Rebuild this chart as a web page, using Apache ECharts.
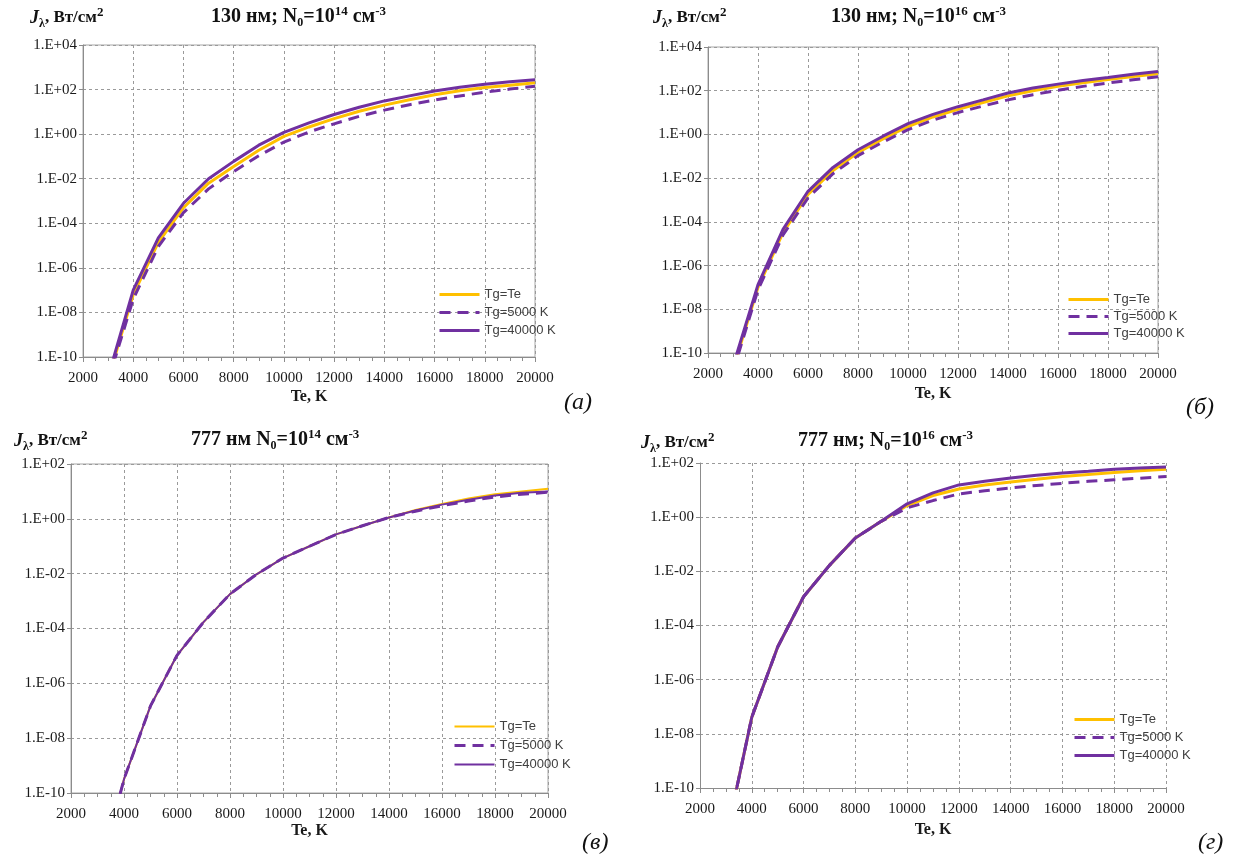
<!DOCTYPE html>
<html><head><meta charset="utf-8">
<script src="https://cdn.jsdelivr.net/npm/echarts@6/dist/echarts.min.js"></script>
<style>html,body{margin:0;padding:0;background:#fff}#c{width:1233px;height:858px}</style>
</head><body><div id="c"></div><script>
// ---------- DATA ----------
const te = [3000,4000,5000,6000,7000,8000,9000,10000,11000,12000,13000,14000,15000,16000,17000,18000,19000,20000];
const xTickLabels = ['2000','4000','6000','8000','10000','12000','14000','16000','18000','20000'];
const yTickLabelsTop4 = ['1.E-10','1.E-08','1.E-06','1.E-04','1.E-02','1.E+00','1.E+02','1.E+04'];
const yTickLabelsTop2 = ['1.E-10','1.E-08','1.E-06','1.E-04','1.E-02','1.E+00','1.E+02'];
const seriesNames = ['Tg=Te','Tg=5000 K','Tg=40000 K'];

// (a) 130 nm, N0=1e14
const aTe    = [1.0e-11,6.3e-8,1.4e-5,5.0e-4,6.3e-3,3.5e-2,0.19,0.79,2.1,5.0,10.7,20,35,58,89,123,158,204];
const a5000  = [8.3e-12,4.0e-8,9.1e-6,3.0e-4,3.5e-3,2.1e-2,0.107,0.44,1.26,2.9,6.3,12,21,34,52,76,105,141];
const a40000 = [1.3e-11,1.0e-7,2.2e-5,7.9e-4,1.0e-2,6.0e-2,0.32,1.2,3.2,7.6,16,31,52,87,126,174,224,275];
// (b) 130 nm, N0=1e16
const bTe    = [1.8e-11,1.0e-7,3.2e-5,1.8e-3,2.2e-2,0.15,0.63,2.3,6.3,14,29,58,100,158,234,324,447,589];
const b5000  = [1.4e-11,7.9e-8,2.5e-5,1.26e-3,1.6e-2,0.107,0.45,1.66,4.5,10,20,38,66,105,158,224,316,437];
const b40000 = [2.5e-11,1.35e-7,4.5e-5,2.5e-3,3.1e-2,0.2,0.83,3.1,8.3,18.6,38,79,132,200,295,398,562,759];
// (c) 777 nm, N0=1e14
const cTe    = [6.3e-14,3.2e-10,1.5e-7,1.05e-5,1.7e-4,1.8e-3,9.5e-3,3.7e-2,0.1,0.27,0.56,1.12,2.1,3.5,5.5,7.9,10,12.6];
const c5000  = [6.3e-14,3.2e-10,1.5e-7,1.05e-5,1.7e-4,1.8e-3,9.5e-3,3.7e-2,0.1,0.27,0.56,1.12,1.9,3.0,4.5,6.3,7.9,9.3];
const c40000 = [6.3e-14,3.2e-10,1.5e-7,1.05e-5,1.7e-4,1.8e-3,9.5e-3,3.7e-2,0.1,0.27,0.56,1.12,2.0,3.3,5.0,7.1,8.9,10];
// (d) 777 nm, N0=1e16
const dTe    = [1.3e-12,4.1e-8,1.6e-5,1.15e-3,1.66e-2,0.17,0.7,2.7,6.3,11,15.5,20,25,32,38,45,52,59];
const d5000  = [1.3e-12,4.1e-8,1.6e-5,1.15e-3,1.66e-2,0.17,0.7,2.2,4.1,7.2,9.5,12,14.8,17.8,21,24,27.5,31.6];
const d40000 = [1.3e-12,4.1e-8,1.6e-5,1.15e-3,1.66e-2,0.17,0.7,3.1,7.9,15.5,21,28,35,43,50,59,65,71];

// ---------- LAYOUT ----------
const panels = [
  {grid:{left:83,top:45,width:452,height:312}, yMax:1e4, yLabels:yTickLabelsTop4, data:[aTe,a5000,a40000], solidW:3, nameGap:32, border:true,
   legend:{left:438,top:288,gap:5}},
  {grid:{left:708,top:47,width:450,height:306}, yMax:1e4, yLabels:yTickLabelsTop4, data:[bTe,b5000,b40000], solidW:3, nameGap:33, border:true,
   legend:{left:1067,top:293,gap:4}},
  {grid:{left:71,top:464,width:477,height:329}, yMax:1e2, yLabels:yTickLabelsTop2, data:[cTe,c5000,c40000], solidW:2, nameGap:29, border:true,
   legend:{left:453,top:720,gap:6}},
  {grid:{left:700,top:463,width:466,height:325}, yMax:1e2, yLabels:yTickLabelsTop2, data:[dTe,d5000,d40000], solidW:3, nameGap:34, border:false,
   legend:{left:1073,top:713,gap:5}}
];
const YELLOW = '#FFC000', PURPLE = '#7030A0';
const serif = 'Liberation Serif';

const grids = [], xAxes = [], yAxes = [], series = [], legends = [];
panels.forEach((p, i) => {
  grids.push(Object.assign({show:p.border, borderColor:'#a6a6a6', borderWidth:1, backgroundColor:'transparent'}, p.grid));
  xAxes.push({
    type:'value', gridIndex:i, min:2000, max:20000, interval:2000,
    axisLine:{show:true, lineStyle:{color:'#8c8c8c', width:1}},
    axisTick:{show:true, length:5, lineStyle:{color:'#8c8c8c'}},
    minorTick:{show:true, splitNumber:4, length:4, lineStyle:{color:'#8c8c8c'}},
    splitLine:{show:true, lineStyle:{color:'#9a9a9a', type:[3,3], width:1}},
    axisLabel:{fontFamily:serif, fontSize:15, color:'#1a1a1a', margin:14,
      formatter:(v)=>xTickLabels[(v-2000)/2000] || ''},
    name:'Te, K', nameLocation:'middle', nameGap:p.nameGap,
    nameTextStyle:{fontFamily:serif, fontWeight:'bold', fontSize:16, color:'#1a1a1a'}
  });
  yAxes.push({
    type:'log', logBase:10, gridIndex:i, min:1e-10, max:p.yMax, interval:2,
    axisLine:{show:true, lineStyle:{color:'#8c8c8c', width:1}},
    axisTick:{show:true, length:4, lineStyle:{color:'#8c8c8c'}},
    splitLine:{show:true, lineStyle:{color:'#9a9a9a', type:[3,3], width:1}},
    axisLabel:{fontFamily:serif, fontSize:15, color:'#1a1a1a', margin:6,
      formatter:(v)=>{const e=Math.round(Math.log10(v)); return p.yLabels[(e+10)/2] || '';}}
  });
  const styles = [
    {color:YELLOW, width:p.solidW===2?2:3, type:'solid'},
    {color:PURPLE, width:3, type:[11,7]},
    {color:PURPLE, width:p.solidW, type:'solid'}
  ];
  p.data.forEach((arr, k) => {
    series.push({
      name:seriesNames[k], type:'line', xAxisIndex:i, yAxisIndex:i,
      data:te.map((t, j) => [t, arr[j]]),
      symbol:'none', showSymbol:false, clip:true, animation:false,
      lineStyle:styles[k], itemStyle:{color:styles[k].color}, z:2+k
    });
  });
  legends.push({
    orient:'vertical', left:p.legend.left, top:p.legend.top, itemWidth:40, itemHeight:14, itemGap:p.legend.gap,
    selectedMode:false, padding:0,
    textStyle:{fontFamily:'Liberation Sans', fontSize:13, color:'#404040'},
    data:seriesNames.map((n,k)=>({name:n, lineStyle:styles[k], itemStyle:{opacity:0}}))
  });
});

const rich = {
  b:{fontFamily:serif, fontWeight:'bold', fontSize:20, color:'#111', lineHeight:24, verticalAlign:'middle'},
  i:{fontFamily:serif, fontWeight:'bold', fontStyle:'italic', fontSize:18, color:'#111', lineHeight:24, verticalAlign:'middle'},
  j:{fontFamily:serif, fontWeight:'bold', fontSize:17, color:'#111', lineHeight:24, verticalAlign:'middle'},
  sup:{fontFamily:serif, fontWeight:'bold', fontSize:13, color:'#111', lineHeight:12, verticalAlign:'top'},
  sub:{fontFamily:serif, fontWeight:'bold', fontSize:12, color:'#111', lineHeight:12, verticalAlign:'bottom'},
  lab:{fontFamily:serif, fontStyle:'italic', fontWeight:'normal', fontSize:24, color:'#111', lineHeight:28}
};
const yName = '{i|J}{sub|λ}{j|, Вт/см}{sup|2}';
const texts = [
  {text:yName, left:30, top:6},
  {text:'{b|130 нм; N}{sub|0}{b|=10}{sup|14}{b| см}{sup|-3}', left:211, top:5},
  {text:yName, left:653, top:6},
  {text:'{b|130 нм; N}{sub|0}{b|=10}{sup|16}{b| см}{sup|-3}', left:831, top:5},
  {text:yName, left:14, top:429},
  {text:'{b|777 нм N}{sub|0}{b|=10}{sup|14}{b| см}{sup|-3}', left:191, top:428},
  {text:yName, left:641, top:431},
  {text:'{b|777 нм; N}{sub|0}{b|=10}{sup|16}{b| см}{sup|-3}', left:798, top:429},
  {text:'{lab|(а)}', left:564, top:389},
  {text:'{lab|(б)}', left:1186, top:394},
  {text:'{lab|(в)}', left:582, top:829},
  {text:'{lab|(г)}', left:1198, top:829}
];
const titles = texts.map(t => ({text:t.text, left:t.left, top:t.top, padding:0, textStyle:{fontWeight:'normal', rich}}));

const chart = echarts.init(document.getElementById('c'), null, {renderer:'canvas'});
chart.setOption({
  backgroundColor:'#ffffff', animation:false,
  title:titles, grid:grids, xAxis:xAxes, yAxis:yAxes, series, legend:legends
});
</script></body></html>
